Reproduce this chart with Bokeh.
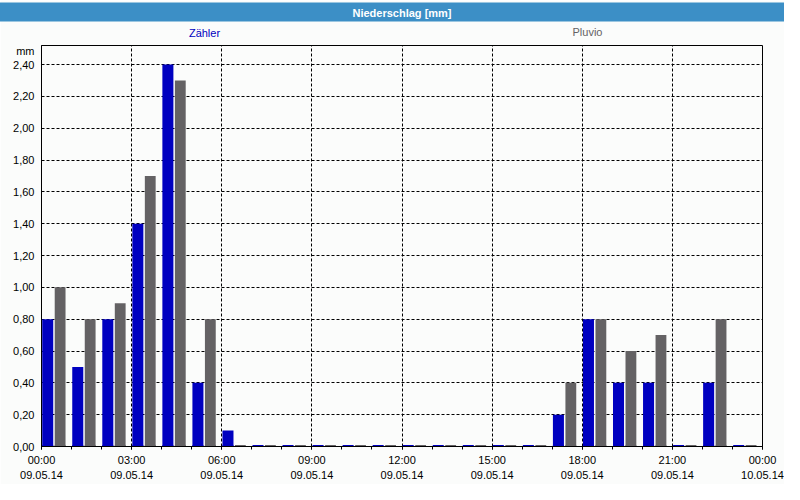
from bokeh.plotting import figure
from bokeh.models import (FixedTicker, CustomJSTickFormatter, Label, ColumnDataSource, Range1d, Title)
from bokeh.transform import dodge
from bokeh.embed import file_html
from bokeh.resources import INLINE

# ---- data ----
hours = list(range(24))
zaehler = [0.8, 0.5, 0.8, 1.4, 2.4, 0.4, 0.1, 0, 0, 0, 0, 0, 0, 0, 0, 0, 0,
           0.2, 0.8, 0.4, 0.4, 0, 0.4, 0]
pluvio = [1.0, 0.8, 0.9, 1.7, 2.3, 0.8, 0, 0, 0, 0, 0, 0, 0, 0, 0, 0, 0,
          0.4, 0.8, 0.6, 0.7, 0, 0.8, 0]
series_names = ["Zähler", "Pluvio"]
x_ticks = [0, 3, 6, 9, 12, 15, 18, 21, 24]
x_tick_labels = ["00:00\n09.05.14", "03:00\n09.05.14", "06:00\n09.05.14",
                 "09:00\n09.05.14", "12:00\n09.05.14", "15:00\n09.05.14",
                 "18:00\n09.05.14", "21:00\n09.05.14", "00:00\n10.05.14"]
y_ticks = [0.0, 0.2, 0.4, 0.6, 0.8, 1.0, 1.2, 1.4, 1.6, 1.8, 2.0, 2.2, 2.4]
y_tick_labels = ["0,00", "0,20", "0,40", "0,60", "0,80", "1,00", "1,20",
                 "1,40", "1,60", "1,80", "2,00", "2,20", "2,40"]
title_text = "Niederschlag [mm]"
unit_text = "mm"

BLUE = "#0000c0"
GRAY = "#646264"
BAR_BLUE = "#3c8fc6"
BG = "#fbfcfb"
FONT = "Liberation Sans"

src = ColumnDataSource(dict(hour=hours, z=zaehler, p=pluvio))

W, H = 784, 484
ML, MR, MB = 41, 22, 36
Y_MAX = 2.52
UNIT_TICK = 2.485  # where the unit text sits on the y axis (layout)

p = figure(width=W, height=H, output_backend="svg", toolbar_location=None,
           title=None, x_range=Range1d(0, 24), y_range=Range1d(0, Y_MAX),
           min_border_left=ML, min_border_right=MR, min_border_top=0,
           min_border_bottom=MB)
p.background_fill_color = BG
p.border_fill_color = BG
p.outline_line_color = "black"
p.outline_line_width = 1

# bars
p.vbar(x=dodge("hour", 0.207, range=p.x_range), top="z", bottom=0, width=0.367,
       fill_color=BLUE, line_color=None, source=src)
p.vbar(x=dodge("hour", 0.62, range=p.x_range), top="p", bottom=0, width=0.36,
       fill_color=GRAY, line_color=None, source=src)
# zero values appear as small stubs on the base line
p.rect(x=dodge("hour", 0.207, range=p.x_range), y=0, width=0.367, height=3,
       height_units="screen", fill_color=BLUE, line_color=None, source=src)
p.rect(x=dodge("hour", 0.62, range=p.x_range), y=0, width=0.36, height=3,
       height_units="screen", fill_color=GRAY, line_color=None, source=src)

FMT_CODE = """
const i = tvals.findIndex(t => Math.abs(t - tick) < 1e-9);
return i >= 0 ? tlabels[i] : '';
"""

# x axis
xa = p.xaxis[0]
xa.ticker = FixedTicker(ticks=x_ticks, minor_ticks=hours + [24])
xa.formatter = CustomJSTickFormatter(args=dict(tvals=x_ticks, tlabels=x_tick_labels), code=FMT_CODE)
xa.major_tick_out = 3
xa.major_tick_in = 0
xa.minor_tick_out = 3
xa.minor_tick_in = 0
xa.major_label_standoff = 4
xa.major_label_text_font = FONT
xa.major_label_text_font_size = "11px"
xa.major_label_text_color = "black"
xa.major_label_text_line_height = 1.3
xa.axis_line_color = "black"
xa.major_tick_line_color = "black"
xa.minor_tick_line_color = "black"

# y axis (unit text shown as the top label)
ya = p.yaxis[0]
ya.ticker = FixedTicker(ticks=y_ticks + [UNIT_TICK])
ya.formatter = CustomJSTickFormatter(
    args=dict(tvals=y_ticks + [UNIT_TICK], tlabels=y_tick_labels + [unit_text]), code=FMT_CODE)
ya.major_tick_out = 0
ya.major_tick_in = 0
ya.minor_tick_out = 0
ya.minor_tick_in = 0
ya.major_label_standoff = 7
ya.major_label_text_font = FONT
ya.major_label_text_font_size = "11px"
ya.major_label_text_color = "black"
ya.axis_line_color = "black"

# grids
p.xgrid[0].ticker = FixedTicker(ticks=x_ticks)
p.xgrid[0].grid_line_color = "black"
p.xgrid[0].grid_line_dash = "3 2"
p.ygrid[0].ticker = FixedTicker(ticks=y_ticks)
p.ygrid[0].grid_line_color = "black"
p.ygrid[0].grid_line_dash = "3 2"

# legend texts (above the frame)
p.add_layout(Label(x=163, y=7, x_units="screen", y_units="screen",
                   text=series_names[0], text_align="center", text_baseline="bottom",
                   text_color=BLUE, text_font=FONT, text_font_size="11px"), "above")
p.add_layout(Label(x=546, y=7 - 11, x_units="screen", y_units="screen",
                   text=series_names[1], text_align="center", text_baseline="bottom",
                   text_color=GRAY, text_font=FONT, text_font_size="11px"), "above")
# title bar
p.add_layout(Title(text=title_text, align="center", text_color="white",
                   text_font=FONT, text_font_style="bold", text_font_size="11px",
                   background_fill_color=BAR_BLUE, standoff=0,
                   padding=dict(left=700, right=700, top=4, bottom=3)), "above")

open("out.html", "w").write(file_html(p, INLINE))
